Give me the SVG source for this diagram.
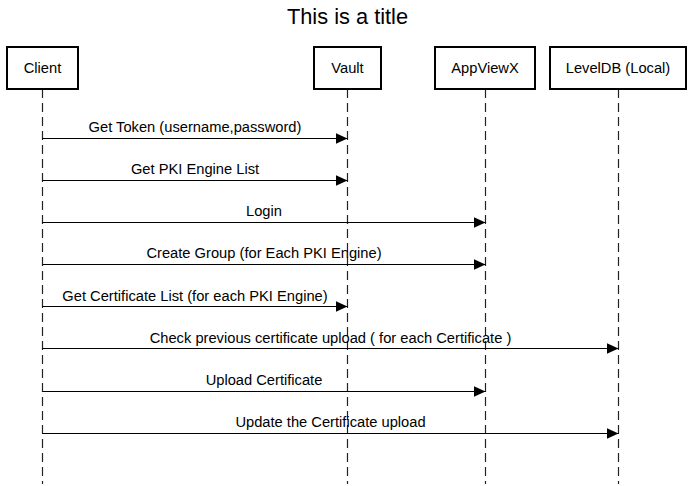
<svg xmlns="http://www.w3.org/2000/svg" width="694" height="486" viewBox="0 0 694 486">
<defs>
<style>
text{font-family:"Liberation Sans",Arial,sans-serif;fill:#000}
.title{font-size:21.8px;text-anchor:middle}
.box{fill:#fff;stroke:#000;stroke-width:2}
.lbl{font-size:14.7px;text-anchor:middle}
.life{stroke:#222;stroke-width:1.2;stroke-dasharray:9,5}
.msg{stroke:#000;stroke-width:1.2;fill:none;marker-end:url(#ah)}
.ml{font-size:14.7px;text-anchor:middle}
</style>
<marker id="ah" markerWidth="12" markerHeight="11" refX="12" refY="5.5" orient="auto" markerUnits="userSpaceOnUse">
<path d="M0,0 L12,5.5 L0,11 Z" fill="#000"/>
</marker>
</defs>
<rect width="694" height="486" fill="#fff"/>
<text class="title" x="347.5" y="23.5">This is a title</text>
<g id="lifelines">
<line class="life" x1="42.5" y1="89" x2="42.5" y2="484"/>
<line class="life" x1="347.5" y1="89" x2="347.5" y2="484"/>
<line class="life" x1="485.5" y1="89" x2="485.5" y2="484"/>
<line class="life" x1="618.5" y1="89" x2="618.5" y2="484"/>
</g>
<g id="client"><rect class="box" x="7" y="47" width="71" height="42"/><text class="lbl" x="42.5" y="73">Client</text></g>
<g id="vault"><rect class="box" x="314" y="47" width="67" height="42"/><text class="lbl" x="347.5" y="73">Vault</text></g>
<g id="appviewx"><rect class="box" x="435" y="47" width="100" height="42"/><text class="lbl" x="485" y="73">AppViewX</text></g>
<g id="leveldb"><rect class="box" x="550" y="47" width="136" height="42"/><text class="lbl" x="618" y="73">LevelDB (Local)</text></g>
<g id="connectors">
<line class="msg" x1="42.5" y1="138.5" x2="347.5" y2="138.5"/>
<text class="ml" x="195" y="132">Get Token (username,password)</text>
<line class="msg" x1="42.5" y1="180.5" x2="347.5" y2="180.5"/>
<text class="ml" x="195" y="174">Get PKI Engine List</text>
<line class="msg" x1="42.5" y1="222.5" x2="485.5" y2="222.5"/>
<text class="ml" x="264" y="216">Login</text>
<line class="msg" x1="42.5" y1="264.5" x2="485.5" y2="264.5"/>
<text class="ml" x="264" y="258">Create Group (for Each PKI Engine)</text>
<line class="msg" x1="42.5" y1="306.5" x2="347.5" y2="306.5"/>
<text class="ml" x="195" y="301">Get Certificate List (for each PKI Engine)</text>
<line class="msg" x1="42.5" y1="348.5" x2="618.5" y2="348.5"/>
<text class="ml" x="330.5" y="343">Check previous certificate upload ( for each Certificate )</text>
<line class="msg" x1="42.5" y1="391.5" x2="485.5" y2="391.5"/>
<text class="ml" x="264" y="385">Upload Certificate</text>
<line class="msg" x1="42.5" y1="433.5" x2="618.5" y2="433.5"/>
<text class="ml" x="330.5" y="427">Update the Certificate upload</text>
</g>
</svg>
